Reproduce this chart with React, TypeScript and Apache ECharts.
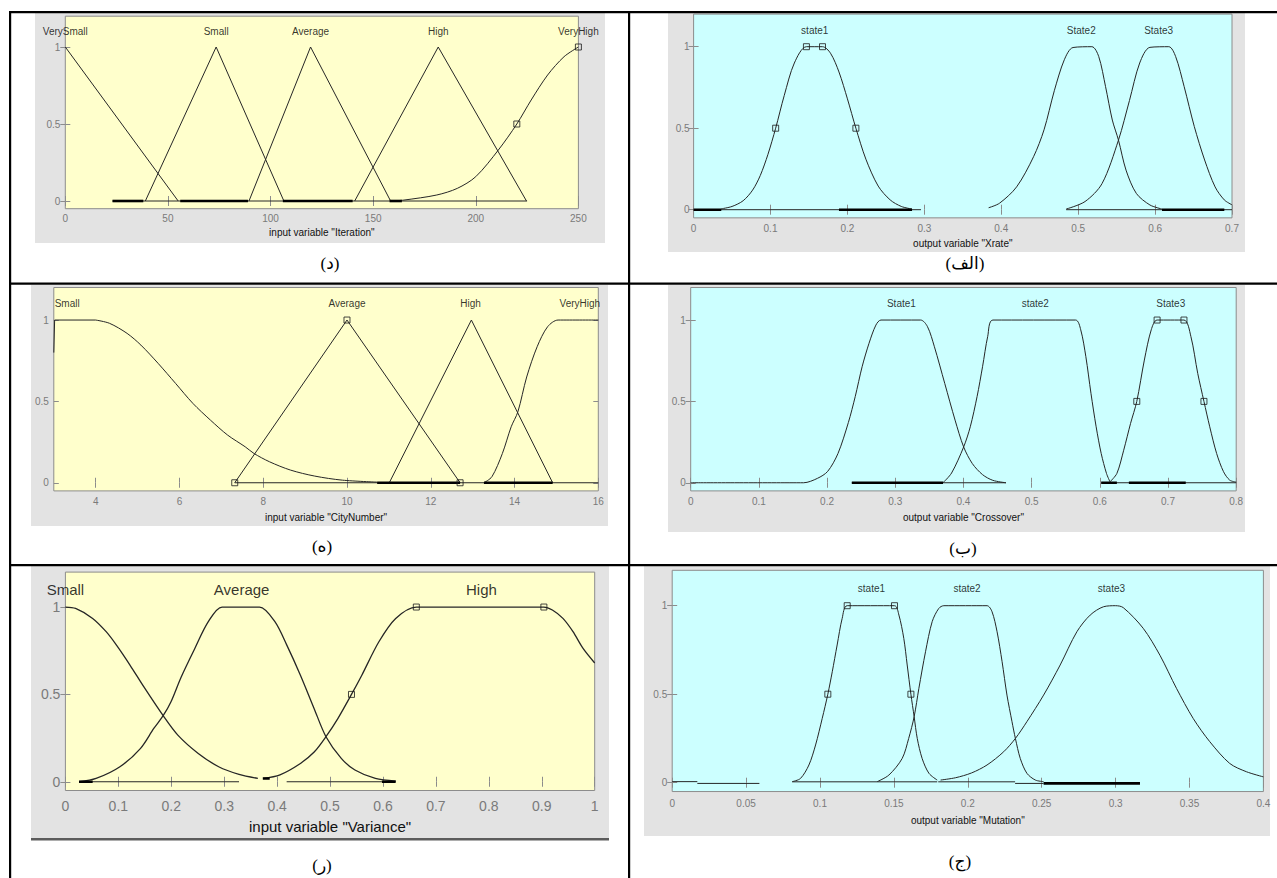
import React, { useEffect, useRef } from 'react';
import * as echarts from 'echarts';

type Pt = [number, number];
type Seg = [number, number, number];

// ---------- Panel (د): input variable "Iteration" ----------
const iterTicks = [0, 50, 100, 150, 200, 250];
const iterVerySmall: Pt[] = [[0, 1], [55, 0]];
const iterSmall: Pt[] = [[39, 0], [73.5, 1], [106.5, 0]];
const iterAverage: Pt[] = [[89.5, 0], [119.5, 1], [158.5, 0]];
const iterHigh: Pt[] = [[141, 0], [181.7, 1], [224.7, 0]];
const iterVeryHigh: Pt[] = [[159, 0], [165, 0.006], [181, 0.039], [191, 0.082], [200, 0.158], [211, 0.331], [220, 0.5], [227, 0.656], [235, 0.818], [243, 0.937], [250, 1]];
const iterMarkers: Pt[] = [[220, 0.5], [250, 1]];
const iterLabels: [string, number][] = [['VerySmall', 0], ['Small', 73.5], ['Average', 119.5], ['High', 181.7], ['VeryHigh', 250]];
const iterThin: Seg[] = [[23, 225, 0]];
const iterThick: Seg[] = [[23, 38, 0], [56, 89, 0], [106, 140, 0], [158, 164, 0]];

// ---------- Panel (الف): output variable "Xrate" ----------
const xrTicks = [0, 0.1, 0.2, 0.3, 0.4, 0.5, 0.6, 0.7];
const xrState1: Pt[] = [[0.0356, 0.005], [0.05, 0.02], [0.0644, 0.055], [0.0767, 0.12], [0.0867, 0.21], [0.0967, 0.34], [0.1067, 0.5], [0.1178, 0.7], [0.131, 0.9], [0.1467, 1], [0.1676, 1], [0.178, 0.96], [0.189, 0.845], [0.2, 0.68], [0.211, 0.5], [0.224, 0.31], [0.24, 0.145], [0.2556, 0.06], [0.27, 0.02], [0.284, 0.004]];
const xrState2: Pt[] = [[0.3836, 0.012], [0.3978, 0.04], [0.42, 0.14], [0.442, 0.325], [0.4556, 0.49], [0.469, 0.73], [0.482, 0.92], [0.4933, 0.995], [0.5178, 1], [0.5267, 0.94], [0.5356, 0.755], [0.5444, 0.55], [0.5524, 0.427], [0.5622, 0.243], [0.5756, 0.1], [0.5933, 0.029], [0.609, 0.004]];
const xrState3: Pt[] = [[0.4844, 0.004], [0.5089, 0.05], [0.531, 0.16], [0.5524, 0.427], [0.5667, 0.67], [0.58, 0.9], [0.5933, 0.996], [0.6178, 1], [0.6267, 0.94], [0.6378, 0.755], [0.651, 0.51], [0.6644, 0.305], [0.678, 0.14], [0.69, 0.06], [0.7, 0.03]];
const xrMarkers: Pt[] = [[0.1067, 0.5], [0.1467, 1], [0.1676, 1], [0.211, 0.5]];
const xrLabels: [string, number][] = [['state1', 0.1575], ['State2', 0.504], ['State3', 0.6046]];
const xrThin: Seg[] = [[0, 0.2956, 0], [0.4844, 0.7, 0]];
const xrThick: Seg[] = [[0, 0.036, 0], [0.189, 0.284, 0], [0.609, 0.69, 0]];

// ---------- Panel (ه): input variable "CityNumber" ----------
const cnTicks = [4, 6, 8, 10, 12, 14, 16];
const cnSmallEdge: Pt[] = [[3, 0.8], [3.02, 1], [4, 1]];
const cnSmall: Pt[] = [[4, 1], [4.33, 0.98], [4.75, 0.918], [5.08, 0.846], [5.49, 0.734], [5.91, 0.61], [6.32, 0.488], [6.74, 0.385], [7.15, 0.293], [7.57, 0.221], [7.78, 0.18], [8.15, 0.129], [8.65, 0.078], [9.23, 0.041], [9.89, 0.016], [10.72, 0.004]];
const cnAverage: Pt[] = [[7.32, 0], [10, 1], [12.7, 0]];
const cnHigh: Pt[] = [[11.01, 0], [12.97, 1], [14.91, 0]];
const cnVeryHigh: Pt[] = [[13.27, 0], [13.46, 0.037], [13.71, 0.18], [13.92, 0.344], [14.08, 0.436], [14.29, 0.65], [14.54, 0.836], [14.79, 0.959], [15.04, 1], [16, 1]];
const cnMarkers: Pt[] = [[7.32, 0], [10, 1], [12.7, 0]];
const cnLabels: [string, number][] = [['Small', 3.32], ['Average', 10], ['High', 12.95], ['VeryHigh', 15.56]];
const cnThin: Seg[] = [[7.32, 16, 0]];
const cnThick: Seg[] = [[10.72, 12.7, 0], [13.27, 14.91, 0]];

// ---------- Panel (ب): output variable "Crossover" ----------
const coTicks = [0, 0.1, 0.2, 0.3, 0.4, 0.5, 0.6, 0.7, 0.8];
const coState1: Pt[] = [[0, 0], [0.1656, 0], [0.1858, 0.027], [0.2009, 0.07], [0.216, 0.18], [0.2312, 0.37], [0.2413, 0.53], [0.2514, 0.713], [0.2615, 0.857], [0.2716, 0.969], [0.279, 1], [0.3372, 1], [0.3473, 0.959], [0.3574, 0.836], [0.3726, 0.61], [0.3877, 0.385], [0.4003, 0.22], [0.413, 0.118], [0.428, 0.05], [0.443, 0.015], [0.4624, 0]];
const coState2: Pt[] = [[0.37, 0], [0.3826, 0.06], [0.4003, 0.22], [0.41, 0.344], [0.42, 0.53], [0.428, 0.713], [0.4356, 0.9], [0.4432, 1], [0.5644, 1], [0.572, 0.94], [0.5795, 0.775], [0.587, 0.55], [0.5946, 0.344], [0.602, 0.18], [0.6098, 0.057], [0.6149, 0.006]];
const coState3: Pt[] = [[0.6149, 0.006], [0.625, 0.057], [0.635, 0.2], [0.6451, 0.365], [0.6542, 0.5], [0.6653, 0.754], [0.6754, 0.94], [0.684, 1], [0.7234, 1], [0.7335, 0.9], [0.7436, 0.672], [0.7527, 0.5], [0.7612, 0.344], [0.7713, 0.18], [0.7814, 0.068], [0.7905, 0.016], [0.8, 0.004]];
const coMarkers: Pt[] = [[0.6542, 0.5], [0.684, 1], [0.7234, 1], [0.7527, 0.5]];
const coLabels: [string, number][] = [['State1', 0.309], ['state2', 0.5054], ['State3', 0.704]];
const coThin: Seg[] = [[0.2363, 0.4624, 0], [0.602, 0.8, 0]];
const coThick: Seg[] = [[0.2363, 0.37, 0], [0.602, 0.625, 0], [0.6426, 0.726, 0]];

// ---------- Panel (ر): input variable "Variance" ----------
const vaTicks = [0, 0.1, 0.2, 0.3, 0.4, 0.5, 0.6, 0.7, 0.8, 0.9, 1];
const vaSmall: Pt[] = [[0, 1], [0.0193, 0.992], [0.0515, 0.935], [0.077, 0.859], [0.0965, 0.782], [0.122, 0.668], [0.148, 0.544], [0.1847, 0.378], [0.2124, 0.267], [0.251, 0.162], [0.2896, 0.086], [0.328, 0.042], [0.3636, 0.019]];
const vaAverage: Pt[] = [[0.0257, 0], [0.058, 0.019], [0.103, 0.086], [0.1416, 0.19], [0.167, 0.305], [0.1847, 0.378], [0.1995, 0.458], [0.2188, 0.6], [0.2445, 0.763], [0.27, 0.916], [0.296, 1], [0.3668, 1], [0.3958, 0.916], [0.4183, 0.782], [0.444, 0.61], [0.4698, 0.42], [0.4923, 0.258], [0.5212, 0.134], [0.547, 0.067], [0.5856, 0.019], [0.6242, 0.004]];
const vaHigh: Pt[] = [[0.3732, 0.019], [0.4054, 0.04], [0.444, 0.105], [0.47, 0.17], [0.4923, 0.258], [0.515, 0.363], [0.5405, 0.5], [0.56, 0.61], [0.592, 0.8], [0.624, 0.935], [0.663, 1], [0.904, 1], [0.92, 0.983], [0.94, 0.935], [0.959, 0.859], [0.978, 0.763], [1, 0.68]];
const vaMarkers: Pt[] = [[0.5405, 0.5], [0.663, 1], [0.904, 1]];
const vaLabels: [string, number][] = [['Small', 0], ['Average', 0.333], ['High', 0.786]];
const vaThin: Seg[] = [[0.0257, 0.328, 0], [0.418, 0.598, 0]];
const vaThick: Seg[] = [[0.0257, 0.0515, 0], [0.373, 0.386, 0.019], [0.598, 0.624, 0]];

// ---------- Panel (ج): output variable "Mutation" ----------
const muTicks = [0, 0.05, 0.1, 0.15, 0.2, 0.25, 0.3, 0.35, 0.4];
const muState1: Pt[] = [[0.0812, 0.006], [0.0868, 0.024], [0.0925, 0.1], [0.097, 0.213], [0.1015, 0.363], [0.1053, 0.5], [0.1083, 0.627], [0.1116, 0.778], [0.115, 0.928], [0.1184, 1], [0.1504, 1], [0.1534, 0.947], [0.1567, 0.815], [0.159, 0.665], [0.1615, 0.5], [0.1637, 0.373], [0.1658, 0.25], [0.1691, 0.137], [0.1737, 0.053], [0.1793, 0.015]];
const muState2: Pt[] = [[0.1387, 0.006], [0.1466, 0.043], [0.1556, 0.137], [0.16, 0.25], [0.1637, 0.373], [0.1669, 0.533], [0.1714, 0.74], [0.1759, 0.91], [0.1804, 0.985], [0.1838, 1], [0.213, 1], [0.2164, 0.966], [0.2198, 0.853], [0.2232, 0.684], [0.2265, 0.495], [0.2299, 0.345], [0.2322, 0.25], [0.2355, 0.137], [0.24, 0.053], [0.2457, 0.015], [0.2513, 0.006]];
const muState3: Pt[] = [[0.1816, 0.015], [0.1917, 0.028], [0.2025, 0.055], [0.213, 0.1], [0.2243, 0.175], [0.2322, 0.25], [0.24, 0.345], [0.2513, 0.495], [0.2625, 0.665], [0.2738, 0.853], [0.2828, 0.947], [0.2918, 0.994], [0.3, 1], [0.3052, 0.989], [0.3187, 0.872], [0.33, 0.72], [0.3412, 0.533], [0.3525, 0.363], [0.3637, 0.232], [0.3772, 0.109], [0.3885, 0.062], [0.4, 0.033]];
const muMarkers: Pt[] = [[0.1053, 0.5], [0.1184, 1], [0.1504, 1], [0.1615, 0.5]];
const muLabels: [string, number][] = [['state1', 0.1348], ['state2', 0.1995], ['state3', 0.2972]];
const muThin: Seg[] = [[0, 0.017, 0.006], [0.017, 0.059, -0.004], [0.0812, 0.1793, 0.005], [0.18, 0.232, 0.005], [0.232, 0.2513, -0.004]];
const muThick: Seg[] = [[0.2513, 0.3165, -0.004]];

const yTicks = [0, 0.5, 1];
const labelY = 1.1;

interface MF { data: Pt[]; smooth: boolean }
interface Panel {
  xMin: number; xMax: number; xTicks: number[]; axisName: string;
  mfs: MF[]; markers: Pt[]; labels: [string, number][]; thin: Seg[]; thick: Seg[];
  grid: { left: number; top: number; width: number; height: number };
  bg: string; fs: number; labelFs: number; nameFs: number;
  labelGap: number; nameGap: number; yMargin: number;
}

const YELLOW = '#ffffcc';
const CYAN = '#ccffff';

const panels: Panel[] = [
  {
    xMin: 0, xMax: 250, xTicks: iterTicks, axisName: 'input variable "Iteration"',
    mfs: [
      { data: iterVerySmall, smooth: false }, { data: iterSmall, smooth: false },
      { data: iterAverage, smooth: false }, { data: iterHigh, smooth: false },
      { data: iterVeryHigh, smooth: true },
    ],
    markers: iterMarkers, labels: iterLabels, thin: iterThin, thick: iterThick,
    grid: { left: 65.3, top: 16.2, width: 513.1, height: 192.5 },
    bg: YELLOW, fs: 10, labelFs: 10, nameFs: 10, labelGap: 9.6, nameGap: 24, yMargin: 5,
  },
  {
    xMin: 0, xMax: 0.7, xTicks: xrTicks, axisName: 'output variable "Xrate"',
    mfs: [
      { data: xrState1, smooth: true }, { data: xrState2, smooth: true }, { data: xrState3, smooth: true },
    ],
    markers: xrMarkers, labels: xrLabels, thin: xrThin, thick: xrThick,
    grid: { left: 693.6, top: 14.1, width: 538.4, height: 203.75 },
    bg: CYAN, fs: 10, labelFs: 10, nameFs: 10, labelGap: 10.5, nameGap: 25.5, yMargin: 4,
  },
  {
    xMin: 3, xMax: 16, xTicks: cnTicks, axisName: 'input variable "CityNumber"',
    mfs: [
      { data: cnSmallEdge, smooth: false }, { data: cnSmall, smooth: true },
      { data: cnAverage, smooth: false }, { data: cnHigh, smooth: false },
      { data: cnVeryHigh, smooth: true },
    ],
    markers: cnMarkers, labels: cnLabels, thin: cnThin, thick: cnThick,
    grid: { left: 53.8, top: 287.5, width: 544.5, height: 203.4 },
    bg: YELLOW, fs: 10, labelFs: 10, nameFs: 10, labelGap: 10.8, nameGap: 26.4, yMargin: 5,
  },
  {
    xMin: 0, xMax: 0.8, xTicks: coTicks, axisName: 'output variable "Crossover"',
    mfs: [
      { data: coState1, smooth: true }, { data: coState2, smooth: true }, { data: coState3, smooth: true },
    ],
    markers: coMarkers, labels: coLabels, thin: coThin, thick: coThick,
    grid: { left: 690.7, top: 287.5, width: 545.5, height: 203.4 },
    bg: CYAN, fs: 10, labelFs: 10, nameFs: 10, labelGap: 10.8, nameGap: 26.4, yMargin: 5,
  },
  {
    xMin: 0, xMax: 1, xTicks: vaTicks, axisName: 'input variable "Variance"',
    mfs: [
      { data: vaSmall, smooth: true }, { data: vaAverage, smooth: true }, { data: vaHigh, smooth: true },
    ],
    markers: vaMarkers, labels: vaLabels, thin: vaThin, thick: vaThick,
    grid: { left: 65.4, top: 572.1, width: 529.3, height: 218.4 },
    bg: YELLOW, fs: 14, labelFs: 15, nameFs: 15, labelGap: 15.2, nameGap: 36.2, yMargin: 5,
  },
  {
    xMin: 0, xMax: 0.4, xTicks: muTicks, axisName: 'output variable "Mutation"',
    mfs: [
      { data: muState1, smooth: true }, { data: muState2, smooth: true }, { data: muState3, smooth: true },
    ],
    markers: muMarkers, labels: muLabels, thin: muThin, thick: muThick,
    grid: { left: 672.2, top: 570.3, width: 591.2, height: 221.25 },
    bg: CYAN, fs: 10, labelFs: 10, nameFs: 10, labelGap: 11.8, nameGap: 28.5, yMargin: 5,
  },
];

const captions: { text: string; x: number; y: number }[] = [
  { text: '(د)', x: 330, y: 263 },
  { text: '(الف)', x: 965, y: 263 },
  { text: '(ه)', x: 322, y: 546 },
  { text: '(ب)', x: 963, y: 548 },
  { text: '(ر)', x: 322, y: 865 },
  { text: '(ج)', x: 960, y: 861 },
];

const grayBoxes = [
  { x: 35, y: 13, w: 570, h: 230 },
  { x: 668, y: 13, w: 577, h: 239 },
  { x: 31, y: 285, w: 577, h: 241 },
  { x: 668, y: 285, w: 577, h: 247 },
  { x: 31, y: 566, w: 578, h: 272 },
  { x: 644, y: 566, w: 626, h: 270 },
];

const FONT = '"Liberation Sans", Arial, sans-serif';
const LINE = '#262626';
const AXIS = '#8c8c8c';
const TICKTXT = '#7a7a7a';

function buildOption() {
  const grid: any[] = [];
  const xAxis: any[] = [];
  const yAxis: any[] = [];
  const series: any[] = [];

  panels.forEach((p, i) => {
    grid.push({
      ...p.grid, show: true, backgroundColor: p.bg, borderColor: AXIS, borderWidth: 1, containLabel: false,
    });
    const tickBase = { show: true, inside: true, length: 5, lineStyle: { color: AXIS, width: 1 }, customValues: p.xTicks };
    xAxis.push({
      type: 'value', gridIndex: i, min: p.xMin, max: p.xMax, position: 'bottom',
      axisLine: { show: false }, splitLine: { show: false },
      axisTick: tickBase,
      axisLabel: {
        customValues: p.xTicks, color: TICKTXT, fontSize: p.fs, fontFamily: FONT,
        margin: p.labelGap, verticalAlign: 'middle',
      },
      name: p.axisName, nameLocation: 'middle', nameGap: p.nameGap,
      nameTextStyle: { color: '#111', fontSize: p.nameFs, fontFamily: FONT, verticalAlign: 'middle' },
    });
    xAxis.push({
      type: 'value', gridIndex: i, min: p.xMin, max: p.xMax, position: 'top',
      axisLine: { show: false }, splitLine: { show: false },
      axisTick: tickBase, axisLabel: { show: false },
    });
    const yTickBase = { show: true, inside: true, length: 5, lineStyle: { color: AXIS, width: 1 }, customValues: yTicks };
    yAxis.push({
      type: 'value', gridIndex: i, min: -0.05, max: 1.2, position: 'left',
      axisLine: { show: false }, splitLine: { show: false },
      axisTick: yTickBase,
      axisLabel: { customValues: yTicks, color: TICKTXT, fontSize: p.fs, fontFamily: FONT, margin: p.yMargin },
    });
    yAxis.push({
      type: 'value', gridIndex: i, min: -0.05, max: 1.2, position: 'right',
      axisLine: { show: false }, splitLine: { show: false },
      axisTick: yTickBase, axisLabel: { show: false },
    });

    const xi = 2 * i;
    p.mfs.forEach((mf) => {
      series.push({
        type: 'line', xAxisIndex: xi, yAxisIndex: xi, data: mf.data,
        smooth: mf.smooth ? 0.3 : false, symbol: 'none', silent: true,
        lineStyle: { color: LINE, width: i === 4 ? 1.3 : 1 }, z: 3,
      });
    });
    p.thin.forEach((s) => {
      series.push({
        type: 'line', xAxisIndex: xi, yAxisIndex: xi, data: [[s[0], s[2]], [s[1], s[2]]],
        symbol: 'none', silent: true, lineStyle: { color: LINE, width: 1 }, z: 3,
      });
    });
    p.thick.forEach((s) => {
      series.push({
        type: 'line', xAxisIndex: xi, yAxisIndex: xi, data: [[s[0], s[2]], [s[1], s[2]]],
        symbol: 'none', silent: true, lineStyle: { color: '#000', width: 2.6 }, z: 4,
      });
    });
    series.push({
      type: 'scatter', xAxisIndex: xi, yAxisIndex: xi, data: p.markers, symbol: 'rect',
      symbolSize: 6, silent: true, clip: false,
      itemStyle: { color: 'rgba(0,0,0,0)', borderColor: '#1a1a1a', borderWidth: 1 }, z: 5,
    });
    series.push({
      type: 'scatter', xAxisIndex: xi, yAxisIndex: xi, symbolSize: 1, silent: true, clip: false,
      itemStyle: { color: 'rgba(0,0,0,0)' },
      data: p.labels.map(([name, x]) => ({ name, value: [x, labelY] })),
      label: {
        show: true, position: 'inside', formatter: (d: any) => d.name,
        color: '#000', fontSize: p.labelFs, fontFamily: FONT,
      },
      z: 6,
    });
  });

  const graphic: any[] = [];
  grayBoxes.forEach((b) => {
    graphic.push({ type: 'rect', z: -10, shape: { x: b.x, y: b.y, width: b.w, height: b.h }, style: { fill: '#e3e3e3' }, silent: true });
  });
  graphic.push({ type: 'rect', z: -9, shape: { x: 31, y: 838, width: 578, height: 2.5 }, style: { fill: '#5c5c5c' }, silent: true });
  // table rules
  const hLines = [12, 283.5, 565];
  hLines.forEach((y) => {
    graphic.push({ type: 'rect', z: 50, shape: { x: 9, y: y - 1, width: 1268, height: 2.2 }, style: { fill: '#000' }, silent: true });
  });
  const vLines = [10, 629];
  vLines.forEach((x) => {
    graphic.push({ type: 'rect', z: 50, shape: { x: x - 1, y: 11, width: 2.2, height: 867 }, style: { fill: '#000' }, silent: true });
  });
  captions.forEach((c) => {
    graphic.push({
      type: 'text', z: 50, x: c.x, y: c.y, silent: true,
      style: {
        text: c.text, fill: '#000', align: 'center', verticalAlign: 'middle',
        font: '17px "Liberation Serif", "DejaVu Serif", "DejaVu Sans", serif',
      },
    });
  });

  return { animation: false, grid, xAxis, yAxis, series, graphic };
}

export default function App() {
  const ref = useRef<HTMLDivElement>(null);
  useEffect(() => {
    if (!ref.current) return;
    const chart = echarts.init(ref.current, undefined, { renderer: 'svg' });
    chart.setOption(buildOption() as any);
    return () => chart.dispose();
  }, []);
  return (
    <div
      ref={ref}
      style={{ position: 'absolute', left: 0, top: 0, width: 1277, height: 878, background: '#fff' }}
    />
  );
}
